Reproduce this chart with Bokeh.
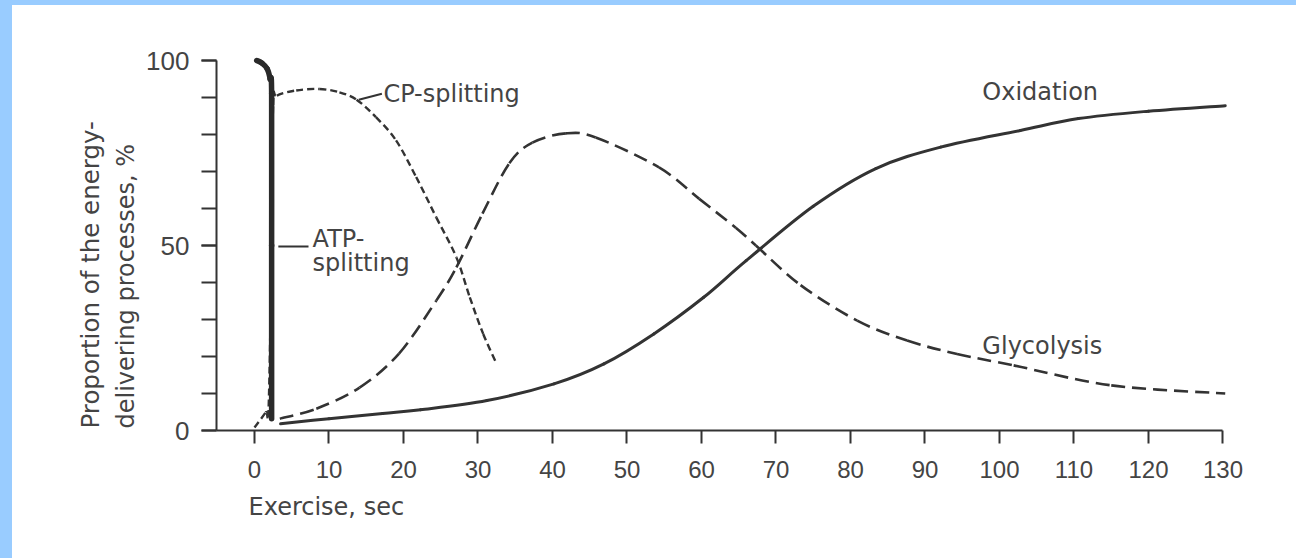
from bokeh.plotting import figure
from bokeh.models import FixedTicker, Label, Range1d, Title, GlobalInlineStyleSheet
from bokeh.embed import file_html
from bokeh.resources import INLINE

# ---------------- data ----------------
x_ticks = list(range(0, 131, 10))
y_major_ticks = [0, 50, 100]
y_minor_ticks = list(range(0, 101, 10))

atp_t = [0.3, 1.0, 1.7, 2.1, 2.3, 2.3, 2.3]
atp_pct = [100, 99.3, 97.8, 95.0, 91.0, 50.0, 3.2]

cp_t = [0.0, 1.5, 1.9, 2.3, 2.5, 3.0, 5.6, 8.7, 11.4, 13.7, 16.3, 19.0, 21.7,
        24.4, 27.1, 28.9, 30.7, 32.5]
cp_pct = [0.8, 4.9, 6.5, 50.0, 88.0, 90.5, 91.9, 92.3, 91.4, 89.4, 84.7, 78.4,
          68.5, 57.6, 46.8, 36.0, 26.1, 18.0]

gly_t = [3.4, 8.3, 14.1, 19.4, 24.4, 27.1, 30.6, 34.2, 37.3, 41.8, 45.8, 54.3,
         59.7, 64.6, 67.3, 73.3, 80.9, 87.6, 94.3, 101.9, 115.0, 130.3]
gly_pct = [3.2, 5.9, 11.6, 20.8, 35.1, 44.1, 58.6, 72.2, 77.8, 80.3, 79.2, 71.1,
           62.6, 54.8, 50.0, 39.3, 29.7, 24.3, 20.7, 17.6, 12.2, 10.0]

ox_t = [3.5, 10.0, 17.2, 22.3, 31.2, 40.2, 46.9, 53.6, 60.3, 66.0, 75.0, 83.4,
        92.1, 102.8, 110.6, 120.0, 130.3]
ox_pct = [1.8, 3.2, 4.6, 5.6, 8.1, 12.6, 18.0, 26.1, 36.0, 45.9, 60.6, 70.8,
          76.6, 81.1, 84.3, 86.3, 87.8]

# ---------------- layout ----------------
MARGIN_LEFT, MARGIN_TOP = 12, 5          # light-blue slide edge
W, H = 1296 - MARGIN_LEFT, 558 - MARGIN_TOP
B_LEFT, B_RIGHT, B_TOP, B_BOTTOM = 204, 36, 47, 128
FRAME_W = W - B_LEFT - B_RIGHT
FRAME_H = H - B_TOP - B_BOTTOM
PX_X = 7.45   # px per second
PX_Y = 3.7    # px per percent
X0 = -5.1

INK = "#333333"
TXT = "#444444"
FONT = "DejaVu Sans"
TICK_FONT = "Liberation Sans"

p = figure(width=W, height=H, title=None,
           x_range=Range1d(X0, X0 + FRAME_W / PX_X),
           y_range=Range1d(0, FRAME_H / PX_Y),
           output_backend="svg", toolbar_location=None,
           min_border_left=B_LEFT, min_border_right=B_RIGHT,
           min_border_top=B_TOP, min_border_bottom=B_BOTTOM)
p.stylesheets = [GlobalInlineStyleSheet(css=(
    "html { background: #99ccff !important; overflow: hidden !important; }"
    "body { background: #ffffff !important; overflow: hidden !important;"
    f" margin: {MARGIN_TOP}px 0 0 {MARGIN_LEFT}px !important; padding: 0 !important; }}"))]
p.background_fill_color = "white"
p.border_fill_color = "white"
p.outline_line_color = None
p.xgrid.grid_line_color = None
p.ygrid.grid_line_color = None

# x axis
xa = p.xaxis[0]
xa.ticker = FixedTicker(ticks=x_ticks)
xa.bounds = (X0, 130)
xa.axis_line_color = INK
xa.axis_line_width = 2
xa.major_tick_line_color = INK
xa.major_tick_line_width = 2
xa.major_tick_out = 13
xa.major_tick_in = 0
xa.minor_tick_line_color = None
xa.major_label_text_font = TICK_FONT
xa.major_label_text_font_size = "24px"
xa.major_label_text_color = TXT
xa.major_label_standoff = 17

# y axis
ya = p.yaxis[0]
ya.ticker = FixedTicker(ticks=y_major_ticks, minor_ticks=y_minor_ticks)
ya.bounds = (0, 100)
ya.axis_line_color = INK
ya.axis_line_width = 2
ya.major_tick_line_color = INK
ya.major_tick_line_width = 2
ya.major_tick_out = 15
ya.major_tick_in = 0
ya.minor_tick_line_color = INK
ya.minor_tick_line_width = 2
ya.minor_tick_out = 15
ya.minor_tick_in = 0
ya.major_label_text_font = TICK_FONT
ya.major_label_text_font_size = "26px"
ya.major_label_text_color = TXT
ya.major_label_standoff = 12


def smooth_curve(xs, ys, **style):
    """Draw a smooth curve through the read points (Catmull-Rom as Bezier segments)."""
    n = len(xs)
    x0, y0, x1, y1, cx0, cy0, cx1, cy1 = ([] for _ in range(8))
    for i in range(n - 1):
        xa_, ya_ = (xs[i - 1], ys[i - 1]) if i > 0 else (xs[i], ys[i])
        xb_, yb_ = (xs[i + 2], ys[i + 2]) if i + 2 < n else (xs[i + 1], ys[i + 1])
        x0.append(xs[i]); y0.append(ys[i]); x1.append(xs[i + 1]); y1.append(ys[i + 1])
        cx0.append(xs[i] + (xs[i + 1] - xa_) / 6); cy0.append(ys[i] + (ys[i + 1] - ya_) / 6)
        cx1.append(xs[i + 1] - (xb_ - xs[i]) / 6); cy1.append(ys[i + 1] - (yb_ - ys[i]) / 6)
    p.bezier(x0=x0, y0=y0, x1=x1, y1=y1, cx0=cx0, cy0=cy0, cx1=cx1, cy1=cy1, **style)


smooth_curve(ox_t, ox_pct, line_color=INK, line_width=3, line_cap="round")
smooth_curve(gly_t, gly_pct, line_color=INK, line_width=2.6, line_dash="14 7")
smooth_curve(cp_t, cp_pct, line_color=INK, line_width=2.4, line_dash="7 4")
smooth_curve(atp_t, atp_pct, line_color="#2a2a2a", line_width=5.5, line_cap="round")

# leader lines for the curve labels
p.segment(x0=[3.2, 14.0], y0=[49.7, 89.4], x1=[7.25, 17.1], y1=[49.7, 91.0],
          line_color=INK, line_width=2)


def lab(x, y, text, size="24px"):
    p.add_layout(Label(x=x, y=y, text=text, text_font=FONT, text_font_size=size,
                       text_color=TXT, text_baseline="alphabetic"))


lab(17.3, 91.0, "CP-splitting")
lab(7.8, 51.8, "ATP-")
lab(7.8, 45.3, "splitting")
lab(97.7, 91.5, "Oxidation")
lab(97.7, 22.9, "Glycolysis")

# axis titles (outside the frame, as side-panel titles)
def side_title(text, side, offset, standoff, size="24px"):
    p.add_layout(Title(text=text, align="left", offset=offset, standoff=standoff,
                       text_font=FONT, text_font_size=size, text_font_style="normal",
                       text_color=TXT), side)


side_title("Exercise, sec", "below", 32, 21, size="24px")
side_title("delivering processes, %", "left", 2, 7)
side_title("Proportion of the energy-", "left", 2, 3, size="24.5px")

open("out.html", "w").write(file_html(p, INLINE))
